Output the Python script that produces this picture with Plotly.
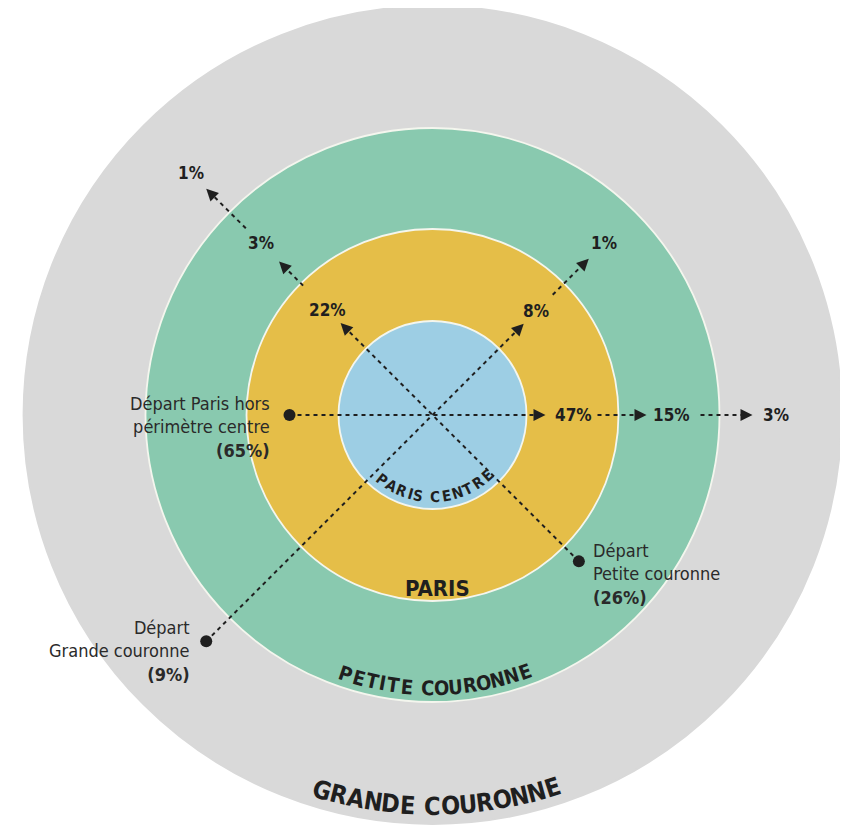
import math
import plotly.graph_objects as go

# ---------------- data ----------------
zones = ["GRANDE COURONNE", "PETITE COURONNE", "PARIS", "PARIS CENTRE"]
origins = ["Départ Paris hors<br>périmètre centre", "Départ<br>Petite couronne", "Départ<br>Grande couronne"]
origin_share = [65, 26, 9]
flows_from_paris = [47, 15, 3]      # arrivals: Paris, Petite couronne, Grande couronne
flows_from_petite = [22, 3, 1]
flows_from_grande = [8, 1]

# ---------------- layout constants ----------------
W, H = 848, 825
OFF = 8  # page body margin
CX, CY = 432.5, 415
zone_radius = [409, 287, 186, 94]
zone_colors = ["#d9d9d9", "#89c9af", "#e5be48", "#9dcee4"]
INK = "#1f1f1f"
FONT = "Liberation Sans Narrow, DejaVu Sans Condensed, Roboto, sans-serif"

# route geometry: direction (deg, math), start radius, segments (r0, r1 tip), label radii
routes = [
    dict(angle=0, start=-143, segs=[(-143, 113), (165, 214), (268, 320)], lab=[141, 239, 343],
         vals=flows_from_paris),
    dict(angle=135, start=-207, segs=[(-207, 130), (183, 217), (264, 320)], lab=[148, 243, 342],
         vals=flows_from_petite),
    dict(angle=45, start=-320, segs=[(-320, 129), (170, 221)], lab=[147, 243],
         vals=flows_from_grande),
]

fig = go.Figure()

shapes = []
for r, c in zip(zone_radius, zone_colors):
    shapes.append(dict(type="circle", xref="x", yref="y", layer="below",
                       x0=CX - r, x1=CX + r, y0=CY - r, y1=CY + r,
                       fillcolor=c,
                       line=dict(color="#f4f6ee" if r < zone_radius[0] else c, width=1.8)))

annotations = []


def pt(angle, r):
    a = math.radians(angle)
    return CX + r * math.cos(a), CY - r * math.sin(a)


for rt in routes:
    for (r0, r1) in rt["segs"]:
        x0, y0 = pt(rt["angle"], r0)
        x1, y1 = pt(rt["angle"], r1 - 9)
        fig.add_trace(go.Scatter(x=[x0, x1], y=[y0, y1], mode="lines",
                                 line=dict(color=INK, width=2, dash="4px,4px"),
                                 hoverinfo="skip", showlegend=False))
        tx, ty = pt(rt["angle"], r1)
        bx, by = pt(rt["angle"], r1 - 10)
        annotations.append(dict(x=tx, y=ty, ax=bx, ay=by, xref="x", yref="y",
                                axref="x", ayref="y", text="", showarrow=True,
                                arrowhead=2, arrowsize=1.6, arrowwidth=1.5,
                                arrowcolor=INK, standoff=0, startstandoff=0))
    for rl, v in zip(rt["lab"], rt["vals"]):
        lx, ly = pt(rt["angle"], rl)
        annotations.append(dict(x=lx, y=ly, xref="x", yref="y", text=f"<b>{v}%</b>",
                                showarrow=False, font=dict(family=FONT, size=17, color=INK)))

# start dots
dx_, dy_ = [], []
for rt in routes:
    x, y = pt(rt["angle"], rt["start"])
    dx_.append(x)
    dy_.append(y)
fig.add_trace(go.Scatter(x=dx_, y=dy_, mode="markers",
                         marker=dict(size=12, color=INK), hoverinfo="skip", showlegend=False))

# origin labels
origin_pos = [(272, 427, "right"), (591, 574, "left"), (192, 651, "right")]
for (x, y, al), name, s in zip(origin_pos, origins, origin_share):
    annotations.append(dict(x=x, y=y, xref="x", yref="y", xanchor=al, yanchor="middle",
                            align=al, showarrow=False,
                            text=f"{name}<br><b>({s}%)</b>",
                            font=dict(family=FONT, size=18, color="#2a2a2a")))

# curved zone labels
WID = {"I": 0.5, " ": 0.45, "M": 1.2, "W": 1.2}


def curved(text, r, phi0, phi1, size):
    ws = [WID.get(ch, 1.0) for ch in text]
    cum = []
    acc = 0
    for i, w in enumerate(ws):
        if i == 0:
            cum.append(0)
        else:
            acc += (ws[i - 1] + w) / 2
            cum.append(acc)
    total = cum[-1]
    for ch, c in zip(text, cum):
        if ch == " ":
            continue
        phi = phi0 + (phi1 - phi0) * c / total
        p = math.radians(phi)
        x = CX + r * math.sin(p)
        y = CY + r * math.cos(p)
        annotations.append(dict(x=x, y=y, xref="x", yref="y", text=f"<b>{ch}</b>",
                                showarrow=False, textangle=-phi,
                                font=dict(family=FONT, size=size, color=INK)))


curved(zones[3], 82, -38, 42, 15)
curved(zones[1], 273, -18.6, 19.7, 20)
curved(zones[0], 391, -16.4, 17.9, 25)
annotations.append(dict(x=437, y=588, xref="x", yref="y", text=f"<b>{zones[2]}</b>",
                        showarrow=False, font=dict(family=FONT, size=22, color=INK)))

fig.update_layout(
    width=W - OFF, height=H - OFF, margin=dict(l=0, r=0, t=0, b=0),
    paper_bgcolor="white", plot_bgcolor="white",
    xaxis=dict(range=[OFF, W], visible=False, fixedrange=True),
    yaxis=dict(range=[H, OFF], visible=False, fixedrange=True),
    shapes=shapes, annotations=annotations, showlegend=False,
)
fig.write_html("out.html")
